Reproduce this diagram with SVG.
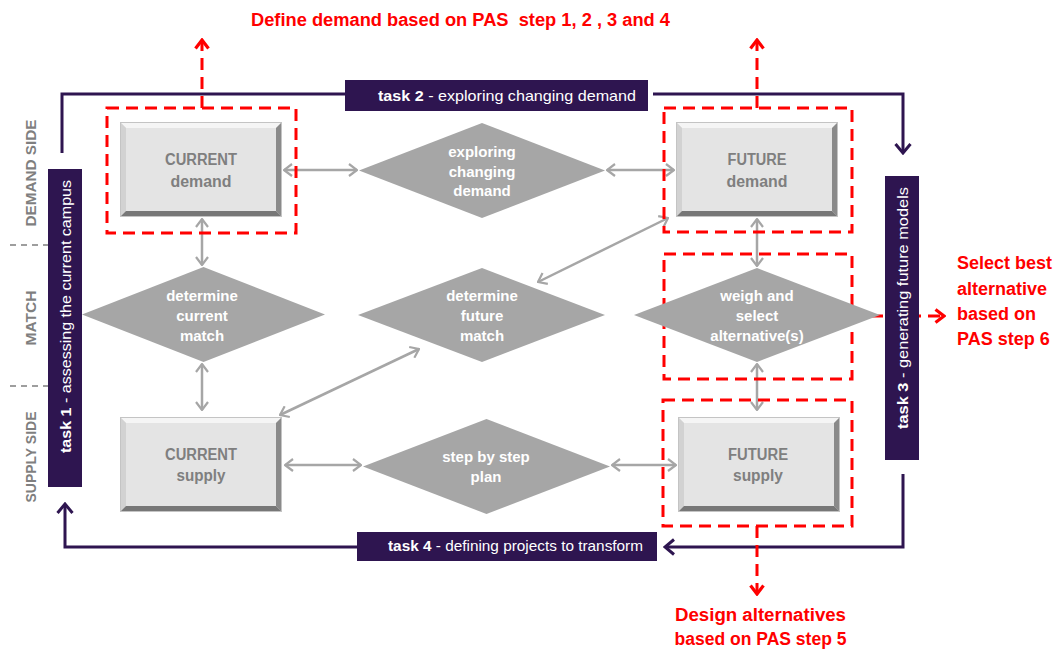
<svg xmlns="http://www.w3.org/2000/svg" xmlns:xlink="http://www.w3.org/1999/xlink" width="1060" height="651" viewBox="0 0 1060 651">
<style>
.txt{font-family:"Liberation Sans",Arial,sans-serif}
.box{font-family:"Liberation Sans",Arial,sans-serif;font-weight:bold;font-size:16px;fill:#7f7f7f;text-anchor:middle}
.dia{fill:#a6a6a6}
.dt{font-family:"Liberation Sans",Arial,sans-serif;font-weight:bold;font-size:15px;fill:#ffffff;text-anchor:middle}
.red{font-family:"Liberation Sans",Arial,sans-serif;font-weight:bold;font-size:18px;fill:#ff0000}
.side{font-family:"Liberation Sans",Arial,sans-serif;font-weight:bold;font-size:15px;fill:#7f7f7f;text-anchor:middle}
.bar{fill:#2e1550}
.bt{font-family:"Liberation Sans",Arial,sans-serif;font-size:15px;fill:#ffffff;text-anchor:middle}
.gl{stroke:#a6a6a6;stroke-width:2.5;fill:none;marker-start:url(#ga);marker-end:url(#ga)}
.pl{stroke:#2e1550;stroke-width:3;fill:none}
.rd{stroke:#ff0000;stroke-width:3;fill:none;stroke-dasharray:12 7}
.sep{stroke:#7f7f7f;stroke-width:1.5;stroke-dasharray:6 5}
</style>
<defs>
<marker id="ga" viewBox="0 0 10 14" refX="9" refY="7" markerWidth="10" markerHeight="14" markerUnits="userSpaceOnUse" orient="auto-start-reverse">
<path d="M1,1 L9,7 L1,13" fill="none" stroke="#a6a6a6" stroke-width="2.2"/>
</marker>
<marker id="pa" viewBox="0 0 12 18" refX="10" refY="9" markerWidth="12" markerHeight="18" markerUnits="userSpaceOnUse" orient="auto">
<path d="M1,1.5 L10,9 L1,16.5" fill="none" stroke="#2e1550" stroke-width="3"/>
</marker>
<marker id="ra" viewBox="0 0 12 16" refX="10" refY="8" markerWidth="12" markerHeight="16" markerUnits="userSpaceOnUse" orient="auto">
<path d="M1.5,1.5 L10,8 L1.5,14.5" fill="none" stroke="#ff0000" stroke-width="3.2"/>
</marker>
<g id="bev">
<rect width="162" height="95" fill="#e4e4e4"/>
<polygon points="0,0 162,0 156,6 6,6" fill="#f5f5f5"/>
<polygon points="0,0 6,6 6,89 0,95" fill="#d2d2d2"/>
<polygon points="162,0 162,95 156,89 156,6" fill="#8a8a8a"/>
<polygon points="0,95 162,95 156,89 6,89" fill="#777777"/>
<rect x="0.5" y="0.5" width="161" height="94" fill="none" stroke="#c4c4c4" stroke-width="1"/>
</g>
</defs>

<!-- side labels and separators -->
<g id="side-labels">
<line class="sep" x1="10" y1="245" x2="48" y2="245"/>
<line class="sep" x1="10" y1="386" x2="48" y2="386"/>
<text class="side" transform="translate(36,173) rotate(-90)" textLength="107" lengthAdjust="spacingAndGlyphs">DEMAND SIDE</text>
<text class="side" transform="translate(36,318) rotate(-90)" textLength="55" lengthAdjust="spacingAndGlyphs">MATCH</text>
<text class="side" transform="translate(36,457) rotate(-90)" textLength="91" lengthAdjust="spacingAndGlyphs">SUPPLY SIDE</text>
</g>

<!-- connectors -->
<g id="connectors">
<!-- task loop -->
<polyline class="pl" points="62,153 62,94 345,94"/>
<polyline class="pl" points="653,94 903,94 903,153" marker-end="url(#pa)"/>
<polyline class="pl" points="903,474 903,547 665,547" marker-end="url(#pa)"/>
<polyline class="pl" points="357,547 65,547 65,504" marker-end="url(#pa)"/>
<!-- grey arrows -->
<line class="gl" x1="284" y1="170" x2="357" y2="170"/>
<line class="gl" x1="607" y1="170" x2="674" y2="170"/>
<line class="gl" x1="202" y1="219" x2="202" y2="265"/>
<line class="gl" x1="202" y1="364" x2="202" y2="410"/>
<line class="gl" x1="285" y1="465" x2="361" y2="465"/>
<line class="gl" x1="612" y1="465" x2="676" y2="465"/>
<line class="gl" x1="757" y1="219" x2="757" y2="266"/>
<line class="gl" x1="757" y1="364" x2="757" y2="410"/>
<line class="gl" x1="280" y1="415" x2="419" y2="349"/>
<line class="gl" x1="538" y1="282" x2="668" y2="218"/>
<!-- red dashed -->
<line class="rd" x1="202" y1="108" x2="202" y2="40" marker-end="url(#ra)"/>
<line class="rd" x1="757" y1="108" x2="757" y2="40" marker-end="url(#ra)"/>
<line class="rd" x1="852" y1="316" x2="944" y2="316" marker-end="url(#ra)"/>
<line class="rd" x1="757" y1="526" x2="757" y2="594" marker-end="url(#ra)"/>
</g>

<!-- red dashed groupings -->
<g id="red-boxes">
<rect class="rd" x="107" y="108" width="189" height="125"/>
<rect class="rd" x="664" y="108" width="188" height="124"/>
<rect class="rd" x="664" y="254" width="188" height="125"/>
<rect class="rd" x="663" y="400" width="189" height="126"/>
</g>

<!-- task bars -->
<g id="task1">
<rect class="bar" x="48" y="169" width="34" height="318"/>
<text class="bt" transform="translate(71,316.5) rotate(-90)" textLength="273" lengthAdjust="spacingAndGlyphs"><tspan font-weight="bold">task 1</tspan> - assessing the current campus</text>
</g>
<g id="task2">
<rect class="bar" x="345" y="80" width="303" height="31"/>
<text class="bt" x="507" y="101" textLength="258" lengthAdjust="spacingAndGlyphs"><tspan font-weight="bold">task 2</tspan> - exploring changing demand</text>
</g>
<g id="task3">
<rect class="bar" x="885" y="176" width="34" height="284"/>
<text class="bt" transform="translate(908,308) rotate(-90)" textLength="242" lengthAdjust="spacingAndGlyphs"><tspan font-weight="bold">task 3</tspan> - generating future models</text>
</g>
<g id="task4">
<rect class="bar" x="357" y="532" width="300" height="29"/>
<text class="bt" x="515.5" y="551" textLength="255" lengthAdjust="spacingAndGlyphs"><tspan font-weight="bold">task 4</tspan> - defining projects to transform</text>
</g>

<!-- boxes -->
<g id="current-demand">
<use xlink:href="#bev" x="120" y="122"/>
<text class="box" x="201" y="165" textLength="72" lengthAdjust="spacingAndGlyphs">CURRENT</text>
<text class="box" x="201" y="187" textLength="61" lengthAdjust="spacingAndGlyphs">demand</text>
</g>
<g id="current-supply">
<use xlink:href="#bev" x="120" y="417"/>
<text class="box" x="201" y="460" textLength="72" lengthAdjust="spacingAndGlyphs">CURRENT</text>
<text class="box" x="201" y="481" textLength="49" lengthAdjust="spacingAndGlyphs">supply</text>
</g>
<g id="future-demand">
<use xlink:href="#bev" x="676" y="122"/>
<text class="box" x="757" y="165" textLength="59" lengthAdjust="spacingAndGlyphs">FUTURE</text>
<text class="box" x="757" y="187" textLength="61" lengthAdjust="spacingAndGlyphs">demand</text>
</g>
<g id="future-supply">
<use xlink:href="#bev" x="678" y="417"/>
<text class="box" x="758" y="460" textLength="60" lengthAdjust="spacingAndGlyphs">FUTURE</text>
<text class="box" x="758" y="481" textLength="50" lengthAdjust="spacingAndGlyphs">supply</text>
</g>

<!-- diamonds -->
<g id="exploring">
<polygon class="dia" points="359,170.5 482,123 605,170.5 482,218"/>
<text class="dt" x="482" y="157">exploring</text>
<text class="dt" x="482" y="177">changing</text>
<text class="dt" x="482" y="196">demand</text>
</g>
<g id="determine-current">
<polygon class="dia" points="82,314.5 203.5,267 325,314.5 203.5,362"/>
<text class="dt" x="202" y="301">determine</text>
<text class="dt" x="202" y="321">current</text>
<text class="dt" x="202" y="341">match</text>
</g>
<g id="determine-future">
<polygon class="dia" points="358,315 482,268 605,315 482,362"/>
<text class="dt" x="482" y="301">determine</text>
<text class="dt" x="482" y="321">future</text>
<text class="dt" x="482" y="341">match</text>
</g>
<g id="weigh">
<polygon class="dia" points="634,315 757,268 880,315 757,362"/>
<text class="dt" x="757" y="301">weigh and</text>
<text class="dt" x="757" y="321">select</text>
<text class="dt" x="757" y="341">alternative(s)</text>
</g>
<g id="step-plan">
<polygon class="dia" points="363,466.5 486.5,419 610,466.5 486.5,514"/>
<text class="dt" x="486" y="462">step by step</text>
<text class="dt" x="486" y="482">plan</text>
</g>

<!-- red annotations -->
<g id="annotations">
<text class="red" x="251" y="26" xml:space="preserve" textLength="419" lengthAdjust="spacingAndGlyphs">Define demand based on PAS  step 1, 2 , 3 and 4</text>
<text class="red" x="957" y="269">Select best</text>
<text class="red" x="957" y="295">alternative</text>
<text class="red" x="957" y="320">based on</text>
<text class="red" x="957" y="345">PAS step 6</text>
<text class="red" x="760.5" y="621" text-anchor="middle" textLength="171" lengthAdjust="spacingAndGlyphs">Design alternatives</text>
<text class="red" x="760.5" y="645" text-anchor="middle" textLength="172" lengthAdjust="spacingAndGlyphs">based on PAS step 5</text>
</g>
</svg>
